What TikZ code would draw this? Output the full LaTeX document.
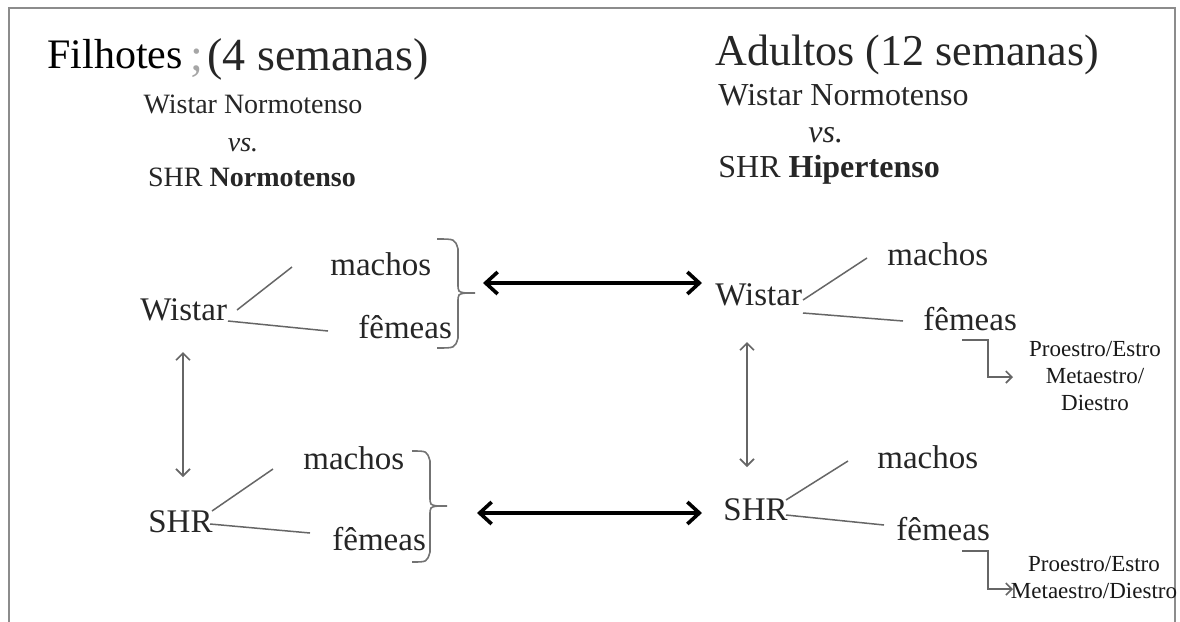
\documentclass[tikz,border=0pt]{standalone}
\usepackage{fontspec}
\setmainfont{Liberation Serif}
\usetikzlibrary{arrows.meta}
\newcommand{\myfs}[1]{\fontsize{#1}{#1}\selectfont}
\begin{document}
\begin{tikzpicture}[x=0.5pt,y=-0.5pt,
  lbl/.style={inner sep=0pt, anchor=base west, text=black!85, font=\myfs{16.5}},
  sub/.style={inner sep=0pt, anchor=base, text=black!85},
  branch/.style={draw=black!60, line width=0.75pt},
  brace/.style={draw=black!55, line width=0.8pt},
  bigarrow/.style={draw=black, line width=1.8pt, {Straight Barb[length=6pt,width=11pt]}-{Straight Barb[length=6pt,width=11pt]}},
  vlink/.style={draw=black!60, line width=0.8pt, {Straight Barb[length=3.5pt,width=7pt]}-{Straight Barb[length=3.5pt,width=7pt]}},
  phase/.style={draw=black!60, line width=0.8pt, -{Straight Barb[length=3pt,width=6pt]}},
  cyc/.style={inner sep=0pt, text=black!90, font=\fontsize{11.5}{13.5}\selectfont, align=center, anchor=north}
]
\useasboundingbox (0,0) rectangle (1180,622);
\fill[white] (0,0) rectangle (1180,622);
% frame
\draw[black!45, line width=1.1pt] (9,622) -- (9,8) -- (1175,8) -- (1175,622);

% titles
\node[lbl, text=black, font=\myfs{21}] (fil) at (47,68) {Filhotes};
\node[lbl, text=black!35, font=\myfs{23}] (frag) at (190,70) {;};
\node[lbl, font=\myfs{23}] (wk4) at (207,70) {(4 semanas)};
\node[lbl, font=\myfs{22}] (adu) at (715,65) {Adultos (12 semanas)};

\node[sub, font=\myfs{14}] (wnL) at (253,113) {Wistar Normotenso};
\node[sub, font=\myfs{14}] (vsL) at (243,151) {\itshape vs.};
\node[sub, font=\myfs{14}] (snL) at (252,186) {SHR \textbf{Normotenso}};

\node[lbl, font=\myfs{16}] (wnR) at (718,105) {Wistar Normotenso};
\node[lbl, font=\myfs{16}] (vsR) at (808,142) {\itshape vs.};
\node[lbl, font=\myfs{16}] (snR) at (718,177) {SHR \textbf{Hipertenso}};

% left group (filhotes)
\node[lbl] (wL) at (140,320) {Wistar};
\node[lbl] (mL1) at (330,275) {machos};
\node[lbl] (fL1) at (358,338) {fêmeas};
\coordinate (wLa) at (237,310); \coordinate (mL1a) at (292,267);
\coordinate (wLb) at (228,321); \coordinate (fL1a) at (328,331);
\draw[branch] (wLa) -- (mL1a);
\draw[branch] (wLb) -- (fL1a);

\node[lbl] (sL) at (148,532) {SHR};
\node[lbl] (mL2) at (303,469) {machos};
\node[lbl] (fL2) at (332,550) {fêmeas};
\coordinate (sLa) at (212,511); \coordinate (mL2a) at (273,469);
\coordinate (sLb) at (210,524); \coordinate (fL2a) at (310,533);
\draw[branch] (sLa) -- (mL2a);
\draw[branch] (sLb) -- (fL2a);

% braces
\coordinate (tip1) at (475,293);
\draw[brace] (437,239) .. controls (455,239) .. (458,249) -- (458,283) .. controls (458,292) .. (466,293) -- (tip1);
\draw[brace] (466,293) .. controls (458,294) .. (458,303) -- (458,338) .. controls (455,348) .. (437,348);
\coordinate (tip2) at (447,506);
\draw[brace] (412,451) .. controls (427,451) .. (430,461) -- (430,496) .. controls (430,505) .. (438,506) -- (tip2);
\draw[brace] (438,506) .. controls (430,507) .. (430,516) -- (430,552) .. controls (427,562) .. (412,562);

% right group (adultos)
\node[lbl] (wR) at (715,305) {Wistar};
\node[lbl] (mR1) at (887,265) {machos};
\node[lbl] (fR1) at (923,330) {fêmeas};
\coordinate (wRa) at (803,300); \coordinate (mR1a) at (867,258);
\coordinate (wRb) at (803,313); \coordinate (fR1a) at (903,321);
\draw[branch] (wRa) -- (mR1a);
\draw[branch] (wRb) -- (fR1a);

\node[lbl] (sR) at (723,520) {SHR};
\node[lbl] (mR2) at (877,468) {machos};
\node[lbl] (fR2) at (896,540) {fêmeas};
\coordinate (sRa) at (786,500); \coordinate (mR2a) at (848,461);
\coordinate (sRb) at (786,515); \coordinate (fR2a) at (884,525);
\draw[branch] (sRa) -- (mR2a);
\draw[branch] (sRb) -- (fR2a);

% estrous cycle
\node[cyc] (cR1) at (1095,341) {Proestro/Estro\\Metaestro/\\Diestro};
\node[cyc] (cR2) at (1094,556) {Proestro/Estro\\Metaestro/Diestro};
\coordinate (fR1c) at (962,340); \coordinate (cR1a) at (1013,377);
\coordinate (fR2c) at (962,551); \coordinate (cR2a) at (1013,589);
\draw[phase] (fR1c) -- (988,340) |- (cR1a);
\draw[phase] (fR2c) -- (988,551) |- (cR2a);

% comparison arrows
\coordinate (h1s) at (483,283); \coordinate (h1e) at (702,283);
\coordinate (h2s) at (477,513); \coordinate (h2e) at (702,513);
\draw[bigarrow] (h1s) -- (h1e);
\draw[bigarrow] (h2s) -- (h2e);

\coordinate (v1s) at (183,352); \coordinate (v1e) at (183,477);
\coordinate (v2s) at (747,342); \coordinate (v2e) at (747,467);
\draw[vlink] (v1s) -- (v1e);
\draw[vlink] (v2s) -- (v2e);
\end{tikzpicture}
\end{document}
